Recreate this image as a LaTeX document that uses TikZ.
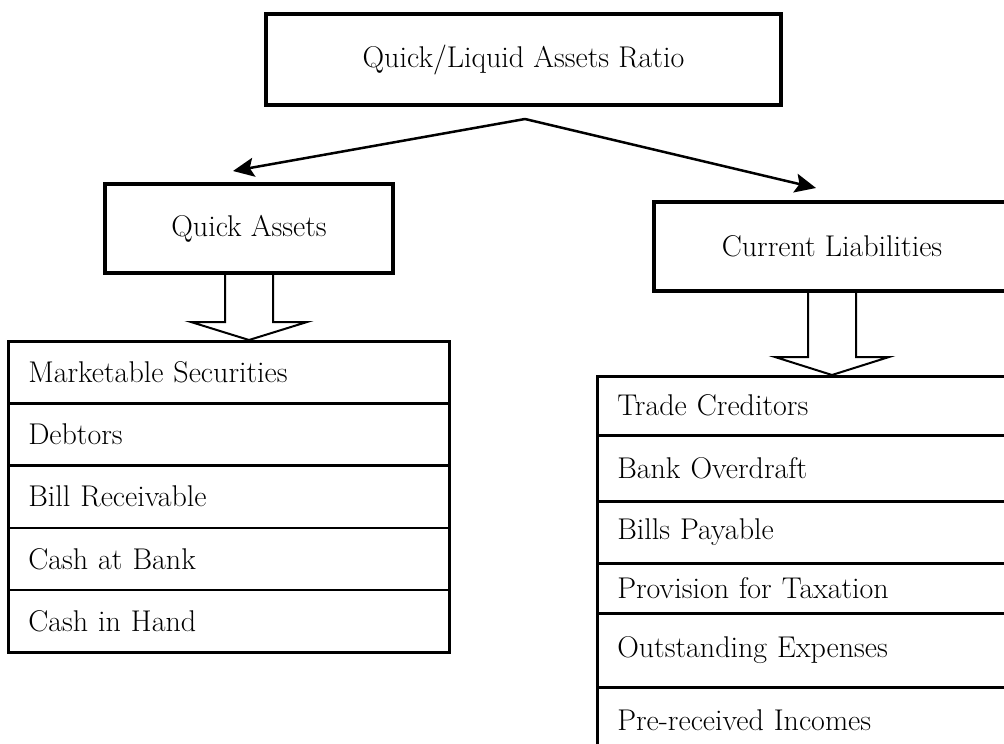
\documentclass[tikz,border=0pt]{standalone}
\usepackage{tikz}
\usetikzlibrary{calc,arrows.meta}

\begin{document}
\begin{tikzpicture}[x=1pt, y=-1pt,
    every node/.style={font=\fontsize{30}{36}\selectfont},
    bigbox/.style={draw, line width=4pt, inner sep=0pt},
    cell/.style={draw, line width=2.5pt, inner xsep=20pt, inner ysep=0pt, align=left},
    link/.style={line width=2.5pt, -{Stealth[length=21pt,width=19pt,inset=4pt]}},
    hollow/.style={draw, fill=white, line width=2pt, line join=miter}]
    \useasboundingbox (0,0) rectangle (1004,744);
    % headings
    \node [bigbox, minimum width=515pt, minimum height=91pt] (ratio) at (523.5,59.5) {Quick/Liquid Assets Ratio};
    \node [bigbox, minimum width=288pt, minimum height=89pt] (qa) at (249,228.5) {Quick Assets};
    \node [bigbox, minimum width=356pt, minimum height=89pt] (cl) at (832,246.5) {Current Liabilities};
    % left list
    \foreach \txt [count=\i] in {Marketable Securities, Debtors, Bill Receivable, Cash at Bank, Cash in Hand}
        \node [cell, text width=401pt, minimum height=62.2pt, anchor=north west] (qa\i) at (7,{340+62.2*(\i-1)}) {\txt};
    % right list
    \foreach \txt/\ya/\yb [count=\i] in {Trade Creditors/375/434, Bank Overdraft/434/500, Bills Payable/500/562,
        Provision for Taxation/562/612, Outstanding Expenses/612/686, Pre-received Incomes/686/752} {
        \pgfmathsetmacro\h{\yb-\ya}
        \node [cell, text width=378pt, minimum height=\h pt, anchor=north west] (cl\i) at (596,\ya) {\txt};
    }
    % arrows
    \coordinate (split) at ($(ratio.south)+(1.5,12)$);
    \draw [link] (split) -- ($(qa.north)+(-16,-11)$);
    \draw [link] (split) -- ($(cl.north)+(-16,-12)$);
    \draw [hollow] ($(qa.south)+(-24,0)$) |- ($(qa.south)+(-58,47)$) -- (qa.south |- qa1.north)
        -- ($(qa.south)+(58,47)$) -| ($(qa.south)+(24,0)$);
    \draw [hollow] ($(cl.south)+(-24,0)$) |- ($(cl.south)+(-57,64)$) -- (cl.south |- cl1.north)
        -- ($(cl.south)+(57,64)$) -| ($(cl.south)+(24,0)$);
\end{tikzpicture}
\end{document}
